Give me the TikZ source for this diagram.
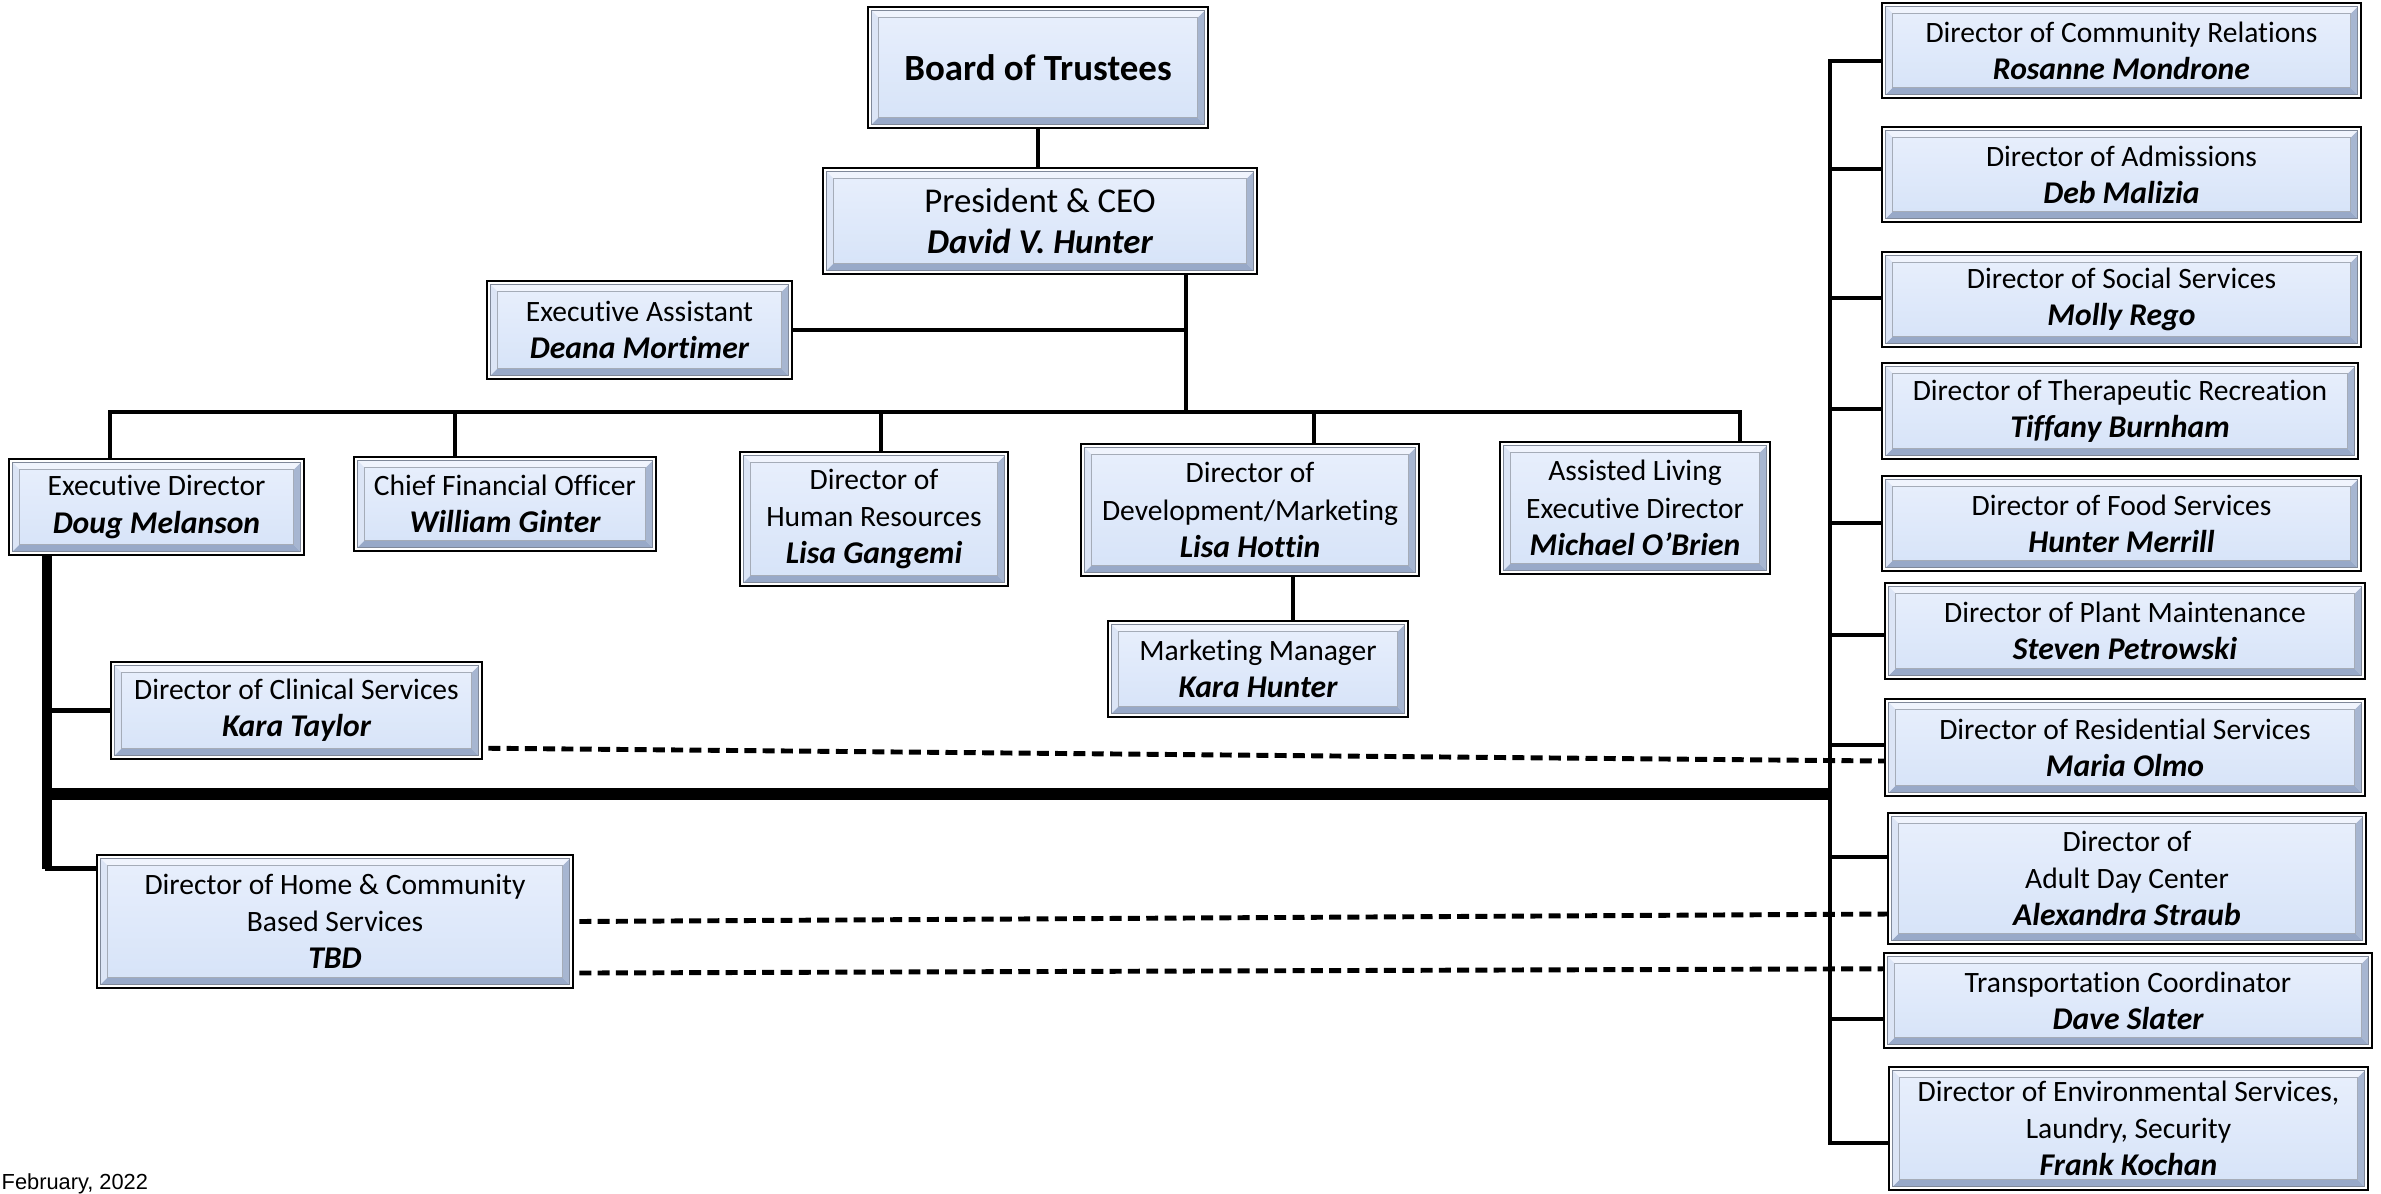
\documentclass[tikz,border=0pt]{standalone}
\usepackage{fontspec}
\setmainfont{Carlito}[Ligatures=NoCommon]
\newfontfamily\datefont{Liberation Sans}
\usetikzlibrary{calc}

\definecolor{boxfill}{HTML}{D6E3F8}
\definecolor{facetop}{HTML}{E8EFFC}
\definecolor{bevtop}{HTML}{F0F4FD}
\definecolor{bevleft}{HTML}{DCE5F6}
\definecolor{bevlow}{HTML}{98A9C8}
\definecolor{bevright}{HTML}{A7B6D1}
\definecolor{bevline}{HTML}{7F8899}

\newcommand\orgfont{\fontsize{8.4}{10.6}\selectfont}
\newcommand\staff[1]{{\fontsize{9}{10.6}\selectfont\bfseries\itshape #1}}

\tikzset{
  orgbox/.style={draw=black, line width=0.7pt, fill=white, align=center,
    inner sep=0pt, font=\orgfont,
    path picture={
      \path (path picture bounding box.south west) ++(1pt,1pt) coordinate (o1)
            (path picture bounding box.north east) ++(-1pt,-1pt) coordinate (o2);
      \path (o1) ++(2pt,2pt) coordinate (i1)
            (o2) ++(-2pt,-2pt) coordinate (i2);
      \shade[top color=facetop, bottom color=boxfill] (o1) rectangle (o2);
      % bevelled rim
      \fill[bevlow] (o1) -- (o1 -| o2) -- (i1 -| i2) -- (i1) -- cycle;
      \fill[bevright] (o1 -| o2) -- (o2) -- (i2) -- (i1 -| i2) -- cycle;
      \fill[bevtop] (o2) -- (o2 -| o1) -- (i2 -| i1) -- (i2) -- cycle;
      \fill[bevleft] (o2 -| o1) -- (o1) -- (i1) -- (i2 -| i1) -- cycle;
      \draw[bevline, line width=0.3pt] (o1) rectangle (o2);
      \draw[bevline!70, line width=0.3pt] (i1) rectangle (i2);
    }},
}

\begin{document}
\begin{tikzpicture}[x=0.01cm, y=-0.01cm,
  link/.style={line width=1.4pt, line cap=rect},
  trunk/.style={line width=2.6pt},
  bus/.style={line width=3.4pt},
  dashlink/.style={line width=1.4pt, dash pattern=on 3.4pt off 1.8pt}]
  \useasboundingbox (0,0) rectangle (2381,1194);

  % top of the chart
  \node[orgbox, minimum width=3.4cm, minimum height=1.21cm,
    font=\fontsize{10.5}{13}\selectfont\bfseries] (board) at (1038,67.5) {Board of Trustees};
  \node[orgbox, minimum width=4.34cm, minimum height=1.06cm,
    font=\fontsize{9.9}{11.8}\selectfont] (pres) at (1040,221) {President \& CEO\\{\bfseries\itshape David V. Hunter}};
  \node[orgbox, minimum width=3.05cm, minimum height=0.98cm] (ea) at (639.5,330) {Executive Assistant\\\staff{Deana Mortimer}};

  % second row
  \node[orgbox, minimum width=2.95cm, minimum height=0.96cm] (execdir) at (156.5,507) {Executive Director\\\staff{Doug Melanson}};
  \node[orgbox, minimum width=3.02cm, minimum height=0.94cm] (cfo) at (505,504) {Chief Financial Officer\\\staff{William Ginter}};
  \node[orgbox, minimum width=2.68cm, minimum height=1.34cm] (hr) at (874,519) {Director of\\Human Resources\\\staff{Lisa Gangemi}};
  \node[orgbox, minimum width=3.38cm, minimum height=1.32cm] (dev) at (1250,510) {Director of\\Development/Marketing\\\staff{Lisa Hottin}};
  \node[orgbox, minimum width=2.70cm, minimum height=1.32cm] (al) at (1635,508) {Assisted Living\\Executive Director\\\staff{Michael O’Brien}};
  \node[orgbox, minimum width=3.00cm, minimum height=0.96cm] (mm) at (1258,669) {Marketing Manager\\\staff{Kara Hunter}};

  % under the executive director
  \node[orgbox, minimum width=3.71cm, minimum height=0.97cm] (clin) at (296.5,710.5) {Director of Clinical Services\\\staff{Kara Taylor}};
  \node[orgbox, minimum width=4.76cm, minimum height=1.33cm] (home) at (335,921.5) {Director of Home \& Community\\Based Services\\\staff{TBD}};

  % right column
  \foreach \nm/\xx/\yy/\boxw/\boxh/\txt in {
    comrel/2121.5/50.5/479/95/{Director of Community Relations\\\staff{Rosanne Mondrone}},
    adm/2121.5/174.5/479/95/{Director of Admissions\\\staff{Deb Malizia}},
    soc/2121.5/299.5/479/95/{Director of Social Services\\\staff{Molly Rego}},
    ther/2120/411/476/96/{Director of Therapeutic Recreation\\\staff{Tiffany Burnham}},
    food/2121.5/523.5/479/95/{Director of Food Services\\\staff{Hunter Merrill}},
    plant/2125/631/480/96/{Director of Plant Maintenance\\\staff{Steven Petrowski}},
    res/2125/747.5/480/97/{Director of Residential Services\\\staff{Maria Olmo}},
    adult/2127/878.5/478/131/{Director of\\Adult Day Center\\\staff{Alexandra Straub}},
    trans/2128/1000.5/488/95/{Transportation Coordinator\\\staff{Dave Slater}},
    env/2128.5/1128.5/479/123/{Director of Environmental Services,\\Laundry, Security\\\staff{Frank Kochan}}} {
    \node[orgbox, minimum width=\boxw*0.01cm, minimum height=\boxh*0.01cm] (\nm) at (\xx,\yy) {\txt};
  }

  % president's line of report
  \draw[link] (board.south) -- (board.south |- pres.north);
  \coordinate (hub) at (1186,412);
  \draw[link] (hub |- pres.south) -- (hub);
  \draw[link] (ea.east) -- (ea.east -| hub);
  \coordinate (busw) at (110,412);
  \coordinate (buse) at (1740,412);
  \draw[link] (execdir.north -| busw) -- (busw) -- (buse) -- (al.north -| buse);
  \foreach \nm/\xx in {cfo/455, hr/881, dev/1314} {
    \coordinate (drop) at (\xx,412);
    \draw[link] (drop) -- (drop |- \nm.north);
  }
  \coordinate (mmx) at (1293,0);
  \draw[link] (dev.south -| mmx) -- (mm.north -| mmx);

  % executive director's branch
  \coordinate (edx) at (47,0);
  \coordinate (homein) at ([yshift=-0.15cm]home.north west);
  \draw[trunk] (execdir.south -| edx) -- (homein -| edx);
  \draw[link] (homein -| edx) -- (homein);
  \draw[link] (clin.west -| edx) -- (clin.west);
  \coordinate (mainbus) at (1830,794);
  \draw[bus] (mainbus -| edx) -- (mainbus);

  % spine of the right column
  \coordinate (spine) at (1830,61);
  \coordinate (spinebot) at (1830,1143);
  \draw[link] (spine) -- (spinebot);
  \foreach \nm/\yy in {comrel/61, adm/169, soc/298, ther/409, food/523, plant/635,
                       res/745, adult/857, trans/1019, env/1143} {
    \coordinate (tap) at (1830,\yy);
    \draw[link] (tap) -- (tap -| \nm.west);
  }

  % dotted lines of report
  \draw[dashlink] ([xshift=0.05cm, yshift=0.12cm]clin.south east) -- ([yshift=-0.135cm]res.west);
  \draw[dashlink] ([xshift=0.05cm]home.east) -- ([yshift=-0.355cm]adult.west);
  \draw[dashlink] ([xshift=0.05cm, yshift=-0.515cm]home.east) -- ([yshift=-0.17cm]trans.north west);

  \node[font=\datefont\fontsize{6.2}{7}\selectfont, anchor=base west, inner sep=0pt] (date) at (1,1189) {February, 2022};
\end{tikzpicture}
\end{document}
